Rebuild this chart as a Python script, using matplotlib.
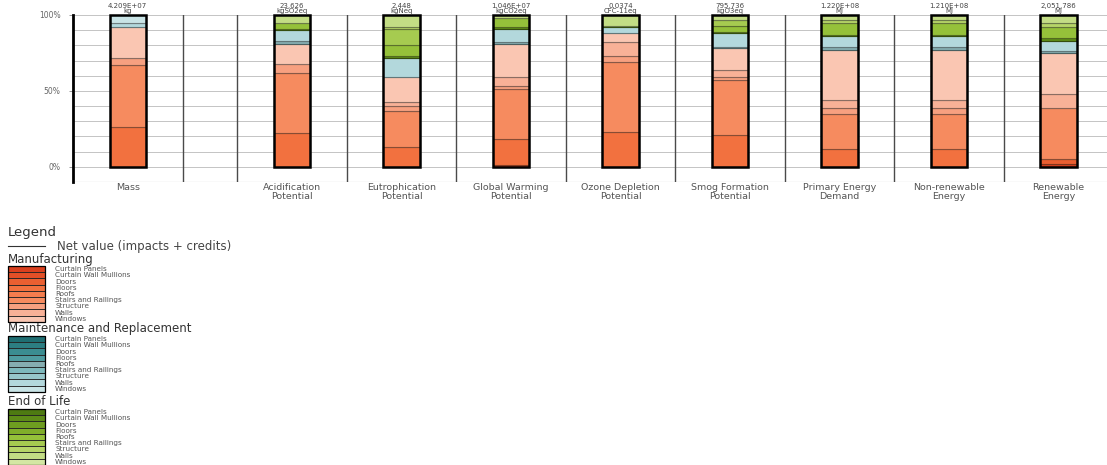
import matplotlib
matplotlib.use("Agg")
import matplotlib.pyplot as plt
from matplotlib.patches import Rectangle
from matplotlib.colors import to_rgb

plt.rcParams['font.family'] = ['DejaVu Sans']

# impact categories, totals shown above each bar
categories = ['Mass', 'Acidification\nPotential', 'Eutrophication\nPotential',
              'Global Warming\nPotential', 'Ozone Depletion\nPotential',
              'Smog Formation\nPotential', 'Primary Energy\nDemand',
              'Non-renewable\nEnergy', 'Renewable\nEnergy']
totals = ['4.209E+07', '23,626', '2,448', '1.046E+07', '0.0374',
          '795,736', '1.220E+08', '1.210E+08', '2,051,786']
units = ['kg', 'kgSO2eq', 'kgNeq', 'kgCO2eq', 'CFC-11eq',
         'kgO3eq', 'MJ', 'MJ', 'MJ']

# building systems (same list for every life-cycle phase)
items = ['Curtain Panels', 'Curtain Wall Mullions', 'Doors', 'Floors', 'Roofs',
         'Stairs and Railings', 'Structure', 'Walls', 'Windows']

phases = ['Manufacturing', 'Maintenance and Replacement', 'End of Life']
colors = {
    'M': ['#D9401E', '#E24F27', '#EA5F31', '#F2713F', '#F47D4E',
          '#F68B5F', '#F7A080', '#F8B197', '#FAC6B2'],
    'R': ['#1F6E72', '#2C7E82', '#3B8D91', '#4F9CA0', '#86AEB1',
          '#7EB9BC', '#97C7CA', '#B3D8DC', '#C9E4E6'],
    'E': ['#4E7A12', '#5E8C18', '#6E9D20', '#80AE2A', '#95C13A',
          '#A6CB50', '#B6D568', '#C3DD85', '#D3E7A3'],
}

# stacked shares (%) per category: (phase, item index, share)
mass = [('M', 3, 26), ('M', 5, 41), ('M', 6, 5), ('M', 8, 20), ('R', 7, 3), ('R', 8, 5)]
acidification = [('M', 3, 22), ('M', 5, 40), ('M', 6, 6), ('M', 8, 13), ('R', 4, 2),
                 ('R', 7, 7), ('E', 1, 1), ('E', 4, 4), ('E', 7, 5)]
eutrophication = [('M', 3, 13), ('M', 5, 24), ('M', 6, 3), ('M', 7, 3), ('M', 8, 16),
                  ('R', 7, 13), ('E', 1, 1), ('E', 4, 7), ('E', 5, 11), ('E', 6, 1), ('E', 7, 8)]
global_warming = [('M', 0, 1), ('M', 3, 17), ('M', 5, 33), ('M', 6, 2), ('M', 7, 6),
                  ('M', 8, 22), ('R', 4, 1), ('R', 7, 9), ('E', 1, 1), ('E', 4, 6), ('E', 7, 2)]
ozone_depletion = [('M', 3, 23), ('M', 5, 46), ('M', 6, 4), ('M', 7, 9), ('M', 8, 6),
                   ('R', 7, 4), ('E', 1, 1), ('E', 7, 7)]
smog = [('M', 3, 21), ('M', 5, 36), ('M', 6, 2), ('M', 7, 5), ('M', 8, 14), ('R', 4, 1),
        ('R', 7, 9), ('E', 1, 1), ('E', 4, 4), ('E', 5, 4), ('E', 7, 3)]
primary_energy = [('M', 3, 12), ('M', 5, 23), ('M', 6, 4), ('M', 7, 5), ('M', 8, 33),
                  ('R', 4, 2), ('R', 7, 7), ('E', 1, 1), ('E', 4, 8), ('E', 6, 2), ('E', 7, 3)]
non_renewable = [('M', 3, 12), ('M', 5, 23), ('M', 6, 4), ('M', 7, 5), ('M', 8, 33),
                 ('R', 4, 2), ('R', 7, 7), ('E', 1, 1), ('E', 4, 8), ('E', 6, 2), ('E', 7, 3)]
renewable = [('M', 0, 2), ('M', 2, 3), ('M', 5, 34), ('M', 7, 9), ('M', 8, 27),
             ('R', 4, 1), ('R', 7, 7), ('E', 1, 2), ('E', 4, 7), ('E', 6, 3), ('E', 7, 5)]
shares = [mass, acidification, eutrophication, global_warming, ozone_depletion,
          smog, primary_energy, non_renewable, renewable]


def darker(c, f=0.55):
    r, g, b = to_rgb(c)
    return (r * f, g * f, b * f)


W, H = 1107, 465
fig = plt.figure(figsize=(W / 100, H / 100), dpi=100)
col_px = 109.5
ax = fig.add_axes([73 / W, 1 - 182 / H, (W - 73) / W, (182 - 15) / H])
ax.set_xlim(0, (W - 73) / col_px)
ax.set_ylim(-10, 100)

# Mass sits alone, then a narrow empty column, then the impact columns
pos = [0.5] + [2.0 + i for i in range(len(categories) - 1)]
bar_w = 0.33

for y in range(0, 101, 10):
    ax.axhline(y, color='#c4c4c4', lw=0.7, zorder=0)
ax.axhline(-10, color='#9a9a9a', lw=0.8, zorder=0)
for x in [1.0] + [p + 0.5 for p in pos[1:-1]] + [1.5]:
    ax.axvline(x, color='#4a4a4a', lw=1.0, zorder=1)

for spine in ['top', 'right', 'bottom']:
    ax.spines[spine].set_visible(False)
ax.spines['left'].set_linewidth(2.0)
ax.spines['left'].set_color('black')

for p, segs, tot, unit, cat in zip(pos, shares, totals, units, categories):
    bottom = 0
    for ph, idx, v in segs:
        fc = colors[ph][idx]
        ax.bar(p, v, bottom=bottom, width=bar_w, color=fc,
               edgecolor=darker(fc), linewidth=0.8, zorder=3)
        bottom += v
    # net value outline of the stack
    ax.add_patch(Rectangle((p - bar_w / 2, 0), bar_w, bottom, fill=False,
                           edgecolor='black', lw=1.8, zorder=4, clip_on=False))
    ax.text(p, 100.4, f'{tot}\n{unit}', ha='center', va='bottom', fontsize=5.0,
            color='#444444', linespacing=0.85, clip_on=False)
    ax.text(p, -10.8, cat, ha='center', va='top', fontsize=6.8,
            color='#555555', linespacing=0.92, clip_on=False)

ax.set_xticks([])
ax.set_yticks([0, 50, 100])
ax.set_yticklabels(['0%', '50%', '100%'], fontsize=5.5, color='#666666')
ax.tick_params(axis='y', length=3, width=0.6, color='#888888', pad=6)

# legend block drawn in pixel coordinates
lg = fig.add_axes([0, 0, 1, 1], zorder=-1)
lg.set_xlim(0, W)
lg.set_ylim(H, 0)
lg.axis('off')

lg.text(8, 232, 'Legend', fontsize=9.5, color='#333333', va='center')
lg.plot([8, 45], [246, 246], color='#333333', lw=0.8)
lg.text(57, 246, 'Net value (impacts + credits)', fontsize=8.5, color='#444444', va='center')

row_h = 6.2
blocks = [('M', 259, 266), ('R', 328, 336), ('E', 401, 409)]
for (ph, ty, top), title in zip(blocks, phases):
    lg.text(8, ty, title, fontsize=8.5, color='#333333', va='center')
    for i, name in enumerate(items):
        y0 = top + i * row_h
        lg.add_patch(Rectangle((8, y0), 37, row_h, facecolor=colors[ph][i],
                               edgecolor='#222222', lw=0.6))
        lg.text(55, y0 + row_h / 2, name, fontsize=5.2, color='#555555', va='center')
    lg.add_patch(Rectangle((8, top), 37, row_h * len(items), fill=False,
                           edgecolor='black', lw=0.9))

fig.savefig('out.png', dpi=100)
